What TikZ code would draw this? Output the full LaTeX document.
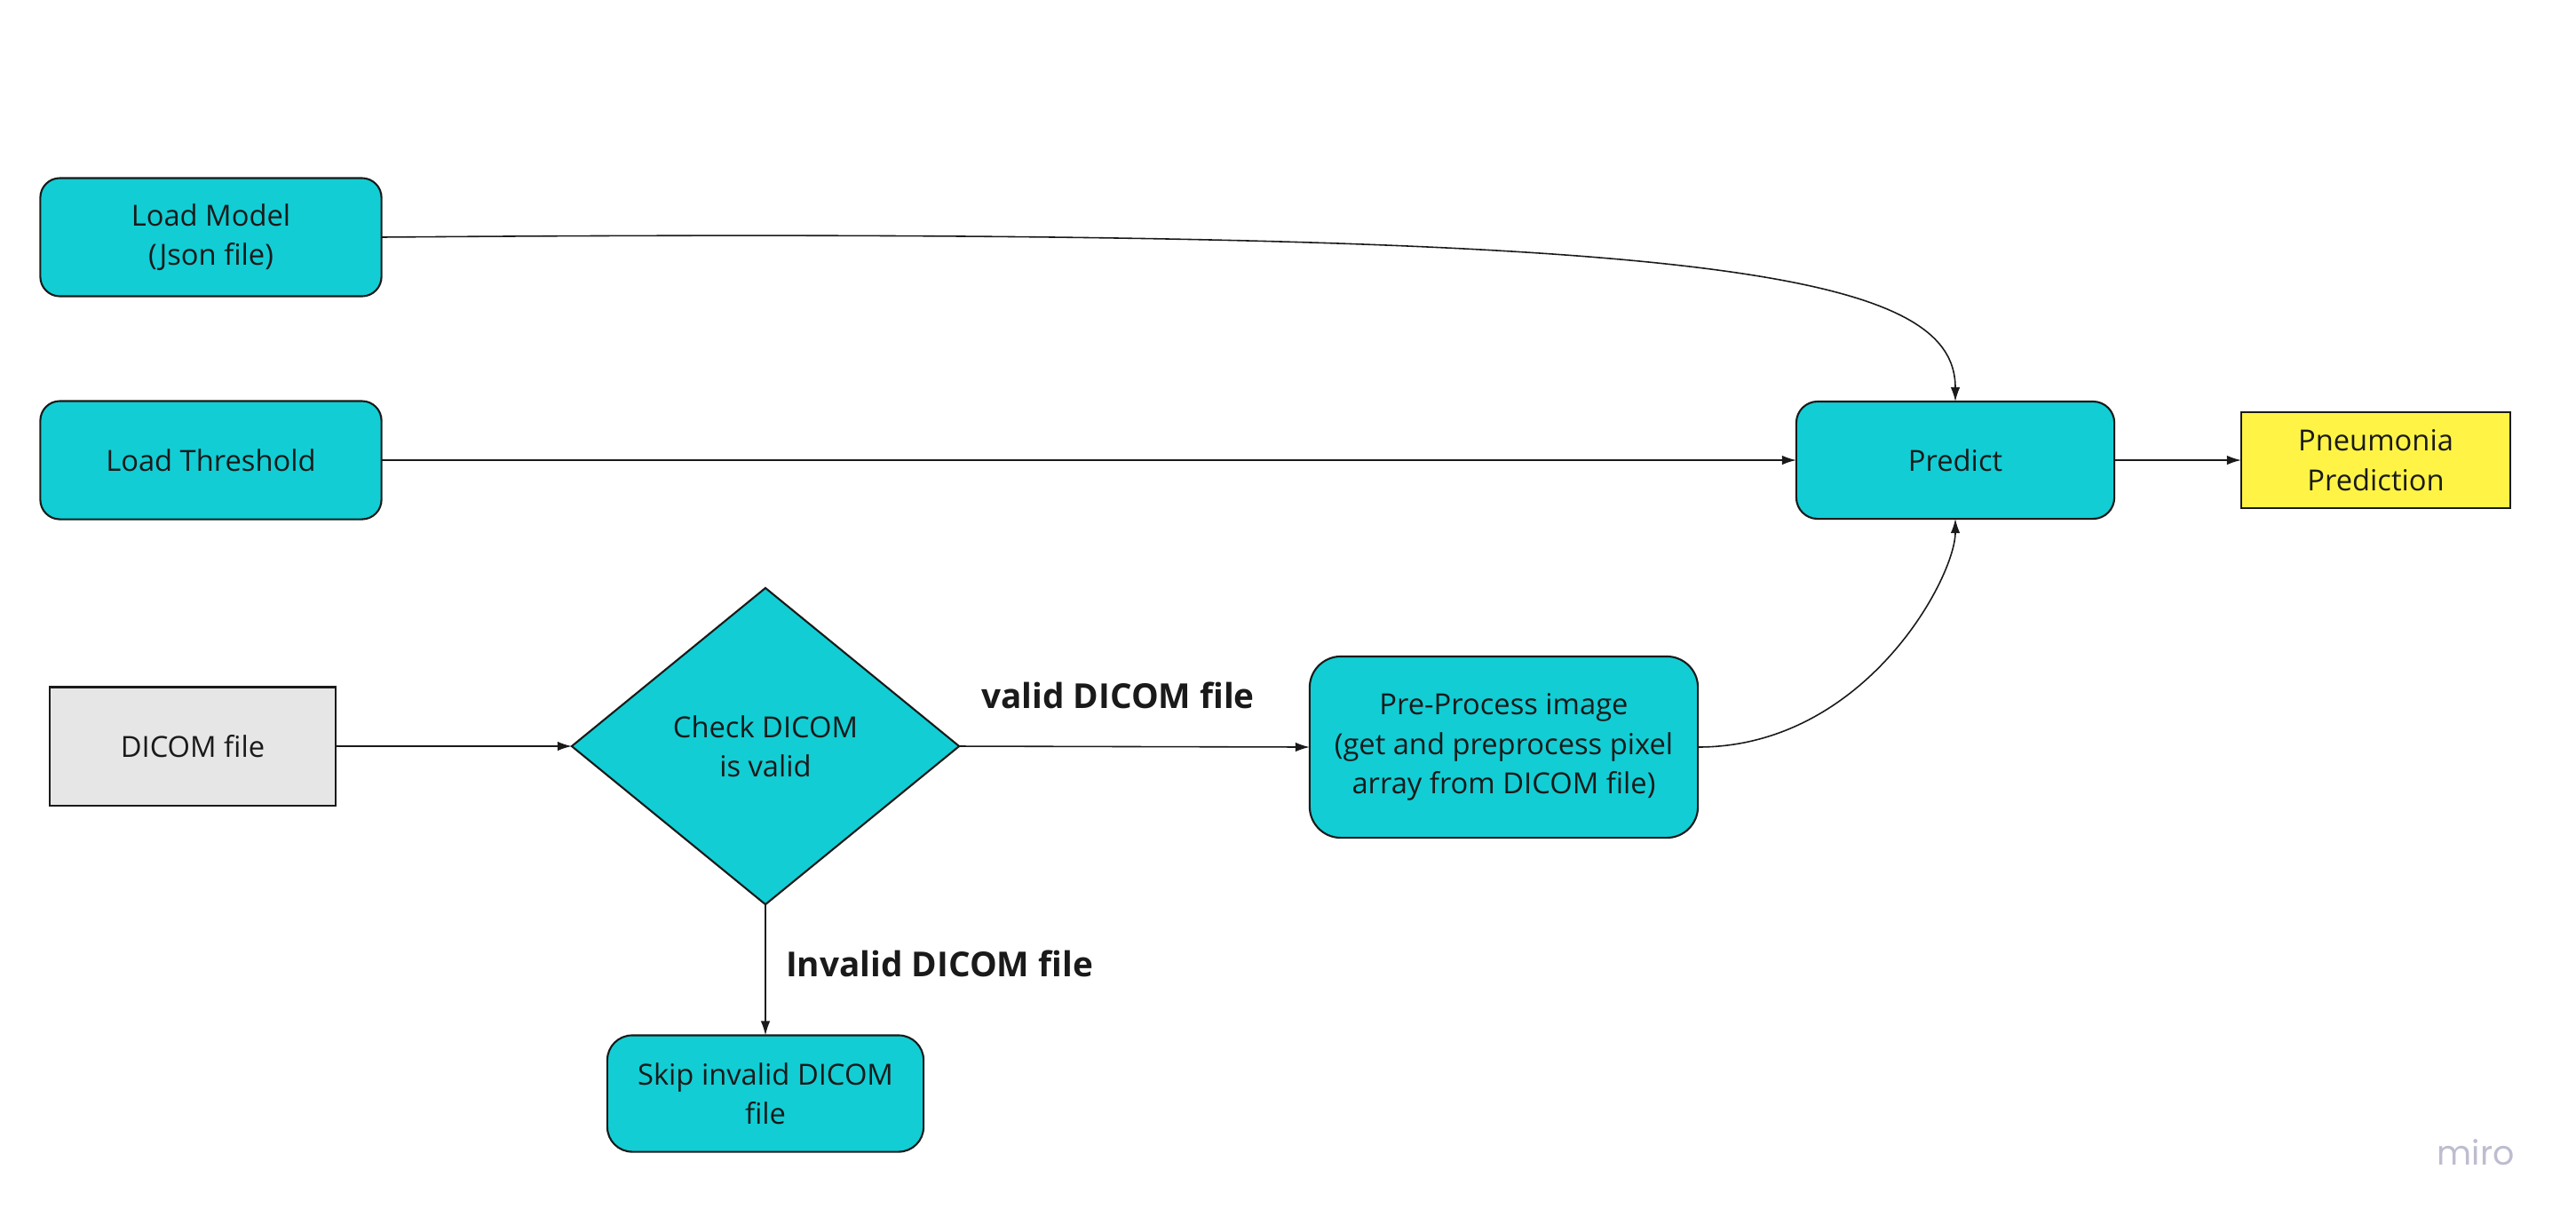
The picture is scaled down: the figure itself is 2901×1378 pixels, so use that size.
\documentclass[tikz,border=0pt]{standalone}
\usepackage{fontspec}
\setmainfont{Open Sans}
\newfontfamily\mirofont{Poppins}
\usetikzlibrary{shapes.geometric,arrows.meta}

\definecolor{boxcyan}{HTML}{12CDD4}
\definecolor{boxyellow}{HTML}{FFF445}
\definecolor{boxgray}{HTML}{E6E6E6}
\definecolor{inkdark}{HTML}{1A1A1A}
\definecolor{mirogray}{HTML}{BDBDCF}

\tikzset{
  procbox/.style={draw=inkdark, line width=0.6pt, fill=boxcyan, rounded corners=0.22cm,
    align=center, inner sep=0pt, outer sep=0pt, text=inkdark,
    font=\fontsize{9.3}{12.6}\selectfont},
  databox/.style={procbox, rounded corners=0pt, fill=boxgray},
  resultbox/.style={procbox, rounded corners=0pt, fill=boxyellow},
  decision/.style={procbox, rounded corners=0pt, shape=diamond},
  conn/.style={draw=inkdark, line width=0.45pt, -{Latex[length=1.6mm,width=1.05mm]}},
  edgelabel/.style={text=inkdark, inner sep=0pt, font=\fontsize{11}{13}\selectfont\bfseries}
}

\begin{document}
\begin{tikzpicture}[x=0.01cm, y=-0.01cm]
\useasboundingbox (0,0) rectangle (2901,1378);

% inputs on the left
\node[procbox, minimum width=3.84cm, minimum height=1.33cm] (model) at (237.5,267) {Load Model\\(Json file)};
\node[procbox, minimum width=3.84cm, minimum height=1.33cm] (thresh) at (237.5,518) {Load Threshold};
\node[databox, minimum width=3.22cm, minimum height=1.33cm] (dicom) at (217,840) {DICOM file};

% validity check
\node[decision, minimum width=4.36cm, minimum height=3.56cm] (check) at (862,840) {Check DICOM\\is valid};
\node[procbox, rounded corners=0.28cm, minimum width=3.56cm, minimum height=1.31cm] (skip) at (862,1231) {Skip invalid DICOM\\file};
\node[procbox, rounded corners=0.35cm, minimum width=4.37cm, minimum height=2.04cm] (prep) at (1693.5,841) {Pre-Process image\\(get and preprocess pixel\\array from DICOM file)};

% prediction
\node[procbox, rounded corners=0.24cm, minimum width=3.58cm, minimum height=1.32cm] (pred) at (2202,518) {Predict};
\node[resultbox, minimum width=3.03cm, minimum height=1.08cm] (pneu) at (2675.5,518) {Pneumonia\\Prediction};

% edge labels
\node[edgelabel] (validlbl) at (1259,783) {valid DICOM file};
\node[edgelabel] (invalidlbl) at (1058,1085) {Invalid DICOM file};

% connectors
\draw[conn] (dicom.east) -- (check.west);
\draw[conn] (check.east) -- (prep.west);
\draw[conn] (check.south) -- (skip.north);
\draw[conn] (thresh.east) -- (pred.west);
\draw[conn] (pred.east) -- (pneu.west);
\draw[conn] (model.east) .. controls +(1470,-12) and +(0,-152) .. (pred.north);
\draw[conn] (prep.east) .. controls +(188,0) and +(0,66) .. (pred.south);

% watermark
\node[text=mirogray, inner sep=0pt, font=\mirofont\fontsize{10.8}{12}\selectfont] (miro) at (2788,1297) {miro};
\end{tikzpicture}
\end{document}
